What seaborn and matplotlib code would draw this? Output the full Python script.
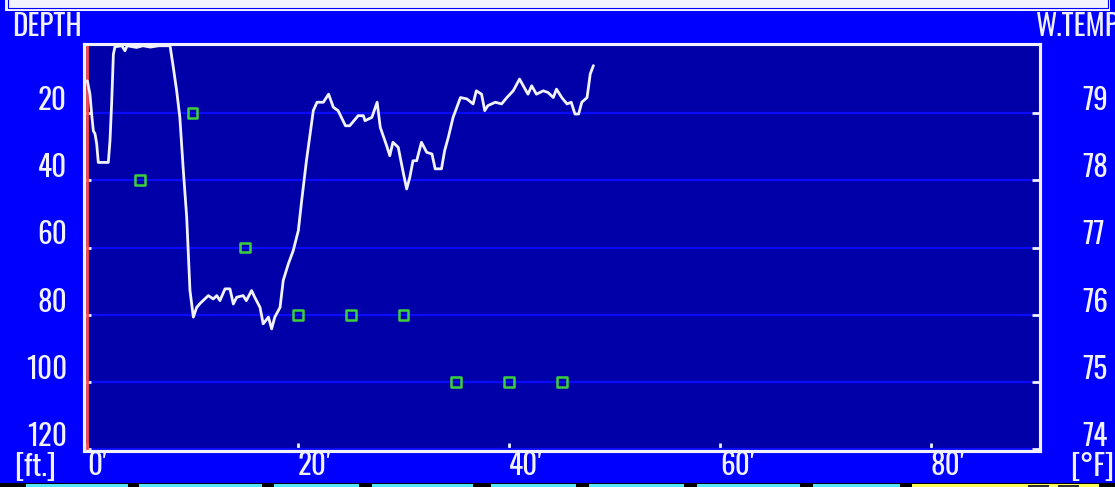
import matplotlib
matplotlib.use("Agg")
import matplotlib.pyplot as plt
import matplotlib.transforms as mtransforms
import seaborn as sns
from matplotlib.patches import Rectangle

# ---------------- data ----------------
distance_ft = [
    0.03, 0.28, 0.44, 0.6, 0.76, 0.92, 1.07, 2.02, 2.18, 2.34, 2.5, 2.65,
    3.3, 3.6, 3.8, 4.7, 5.3, 6.0, 6.8, 7.87,
    8.18, 8.5, 8.8, 9.13, 9.45, 9.76, 10.08, 10.4, 10.7, 11.5,
    11.97, 12.3, 12.6, 13.08, 13.55, 13.87, 14.19, 14.8, 15.1, 15.6,
    15.9, 16.4, 16.7, 17.2, 17.5, 17.8, 18.3, 18.6, 19.08, 19.55,
    20.03, 20.35,
    20.8, 21.45, 21.8, 22.4, 22.9, 23.35, 23.8, 24.5, 24.9, 25.7,
    26.2, 26.35, 27.0, 27.5, 27.8, 28.4, 28.7, 29.0, 29.5, 30.0,
    30.3, 30.6, 30.9, 31.25, 31.7, 32.2, 32.7, 33.0, 33.6, 33.9,
    34.25, 34.7,
    35.4, 36.0, 36.6, 36.9, 37.4, 37.7, 38.0, 38.7, 39.3, 39.8,
    40.4, 41.0, 41.35, 41.8, 42.15, 42.6, 43.25, 43.7, 44.2, 44.5,
    45.0, 45.5, 45.9, 46.25, 46.6, 46.9, 47.4, 47.7, 48.0,
]
depth_ft = [
    10.4, 14.4, 20.3, 25.3, 26.2, 29.2, 34.7, 34.7, 28.2, 16.8, 2.5, 0.3,
    0, 1.5, 0, 0.5, 0, 0.4, 0, 0,
    6.4, 13.4, 21.3, 37.1, 51, 72.8, 80.7, 77.8, 76.7, 74.3,
    75.3, 74.3, 75.8, 72.3, 72.3, 76.8, 74.8, 74.3, 75.8, 72.8,
    74.8, 77.8, 82.7, 80.7, 84.2, 80.7, 77.8, 69.8, 64.9, 60.9,
    55, 46,
    34.2, 19.3, 16.8, 16.8, 14.4, 18.3, 19.3, 23.8, 23.8, 20.8,
    20.8, 22.3, 21.3, 16.8, 24.3, 29.7, 32.7, 28.7, 30.2, 38.1,
    42.6, 39.1, 34.2, 34.2, 28.7, 31.7, 32.2, 36.6, 36.6, 31.2,
    27.2, 21.3,
    15.4, 15.8, 17.3, 13.4, 14.4, 19.3, 17.8, 16.8, 17.3, 15.4,
    13.4, 9.9, 11.9, 14.4, 11.9, 14.4, 13.4, 13.9, 15.4, 12.9,
    15.4, 17.3, 16.8, 20.3, 20.3, 16.8, 15.4, 8.4, 5.9,
]
temp_distance_ft = [5, 10, 15, 20, 25, 30, 35, 40, 45]
water_temp_f = [78, 79, 77, 76, 76, 76, 75, 75, 75]

depth_ticks = [20, 40, 60, 80, 100, 120]
temp_ticks = [74, 75, 76, 77, 78, 79]
dist_ticks = [0, 20, 40, 60, 80]
dist_labels = ["0\u2032", "20\u2032", "40\u2032", "60\u2032", "80\u2032"]

# ---------------- style ----------------
sns.set_style("dark")
plt.rcParams["font.family"] = ["Oswald", "Roboto Condensed", "Archivo Narrow", "DejaVu Sans"]
plt.rcParams["font.weight"] = 200

OUTER = "#0000ff"
INNER = "#0000a8"
GRID = "#0a0aff"
WHITE = "#f2f2ff"
GREEN = "#3cd03c"
RED = "#ff4848"
FS = 21

W, H = 1115, 487
fig = plt.figure(figsize=(W / 100, H / 100), dpi=100, facecolor=OUTER)


def fx(px):
    return px / W


def fy(py):
    return 1 - py / H


L, R, T, B = 83.7, 1039.5, 44.3, 451.3
ax = fig.add_axes([fx(L), fy(B), fx(R) - fx(L), fy(T) - fy(B)])
ax.set_facecolor(INNER)

PX_PER_FT_X = 10.55
X0_PX = 87.0
PX_PER_FT_Y = 3.3625
Y0_PX = 45.75
xlim = ((L - X0_PX) / PX_PER_FT_X, (R - X0_PX) / PX_PER_FT_X)
ylim = ((B - Y0_PX) / PX_PER_FT_Y, (T - Y0_PX) / PX_PER_FT_Y)

ax.set_yticks(depth_ticks)
ax.grid(axis="y", color=GRID, lw=1.6)
ax.grid(axis="x", visible=False)
ax.axvline(0, color=RED, lw=2, zorder=2)

sns.lineplot(x=distance_ft, y=depth_ft, ax=ax, color=WHITE, lw=2.0,
             estimator=None, sort=False, zorder=3)

ax.set_xlim(*xlim)
ax.set_ylim(*ylim)
ax.set_xticks(dist_ticks)
ax.set_xticklabels(dist_labels)
ax.set_yticklabels([str(v) for v in depth_ticks])
ax.set_xlabel("")
ax.set_ylabel("")
ax.tick_params(axis="y", direction="in", length=5, width=2, color=WHITE,
               labelcolor=WHITE, labelsize=FS, pad=12, left=True)
ax.tick_params(axis="x", direction="in", length=6, width=2, color=WHITE,
               labelcolor=WHITE, labelsize=FS, pad=0, bottom=True)
lift = mtransforms.ScaledTranslation(0, 3 / 100, fig.dpi_scale_trans)
for lab in ax.get_yticklabels():
    lab.set_va("baseline")
    lab.set_transform(lab.get_transform() + lift)
for lab in ax.get_xticklabels():
    lab.set_ha("left")

# temperature axis (20 ft of depth per degree F, 80 F at surface)
ax2 = ax.twinx()
ax2.set_ylim(80 - ylim[0] / 20, 80 - ylim[1] / 20)
sns.scatterplot(x=temp_distance_ft, y=water_temp_f, ax=ax2, marker="s", s=50,
                facecolors="none", edgecolors=GREEN, linewidth=1.8, zorder=4)
ax2.set_ylim(80 - ylim[0] / 20, 80 - ylim[1] / 20)
ax2.set_yticks(temp_ticks)
ax2.set_yticklabels([str(v) for v in temp_ticks])
ax2.set_ylabel("")
ax2.grid(False)
ax2.tick_params(axis="y", direction="in", length=6, width=2, color=WHITE,
                labelcolor=WHITE, labelsize=FS, pad=31, right=True)
for lab in ax2.get_yticklabels():
    lab.set_va("baseline")
    lab.set_transform(lab.get_transform() + lift)

for a in (ax, ax2):
    for s in a.spines.values():
        s.set_visible(True)
        s.set_color(WHITE)
        s.set_linewidth(2.2)

fig.text(fx(12), fy(12), "DEPTH", color=WHITE, fontsize=FS, ha="left", va="top")
fig.text(fx(1036), fy(12), "W.TEMP", color=WHITE, fontsize=FS, ha="left", va="top")
fig.text(fx(14), fy(452), "[ft.]", color=WHITE, fontsize=FS, ha="left", va="top")
fig.text(fx(1070), fy(452), "[\u00b0F]", color=WHITE, fontsize=FS, ha="left", va="top")


def rect(x0, y0, x1, y1, color, fill=True, lw=0):
    p = Rectangle((fx(x0), fy(y1)), fx(x1) - fx(x0), fy(y0) - fy(y1),
                  transform=fig.transFigure, facecolor=color if fill else "none",
                  edgecolor=color if not fill else "none", lw=lw, zorder=0)
    fig.patches.append(p)


rect(5, -2, 1110, 10.5, WHITE)
rect(7.5, -5, 1107.5, 7.5, OUTER, fill=False, lw=0.8)

rect(0, 482.5, 1115, 488, "#000000")
for a0, a1 in [(25.6, 128), (138.7, 261.7), (273.8, 359), (372, 473),
               (490.7, 576), (588.8, 684), (697, 800), (812.8, 899.6)]:
    rect(a0, 483.8, a1, 488, "#55e6ff")
rect(912, 483.8, 1098.6, 488, "#ffff55")
rect(1027.6, 484.5, 1049, 488, "#303030")
rect(1057.5, 484.5, 1078.7, 488, "#303030")

fig.savefig("out.png", dpi=100, facecolor=OUTER)
